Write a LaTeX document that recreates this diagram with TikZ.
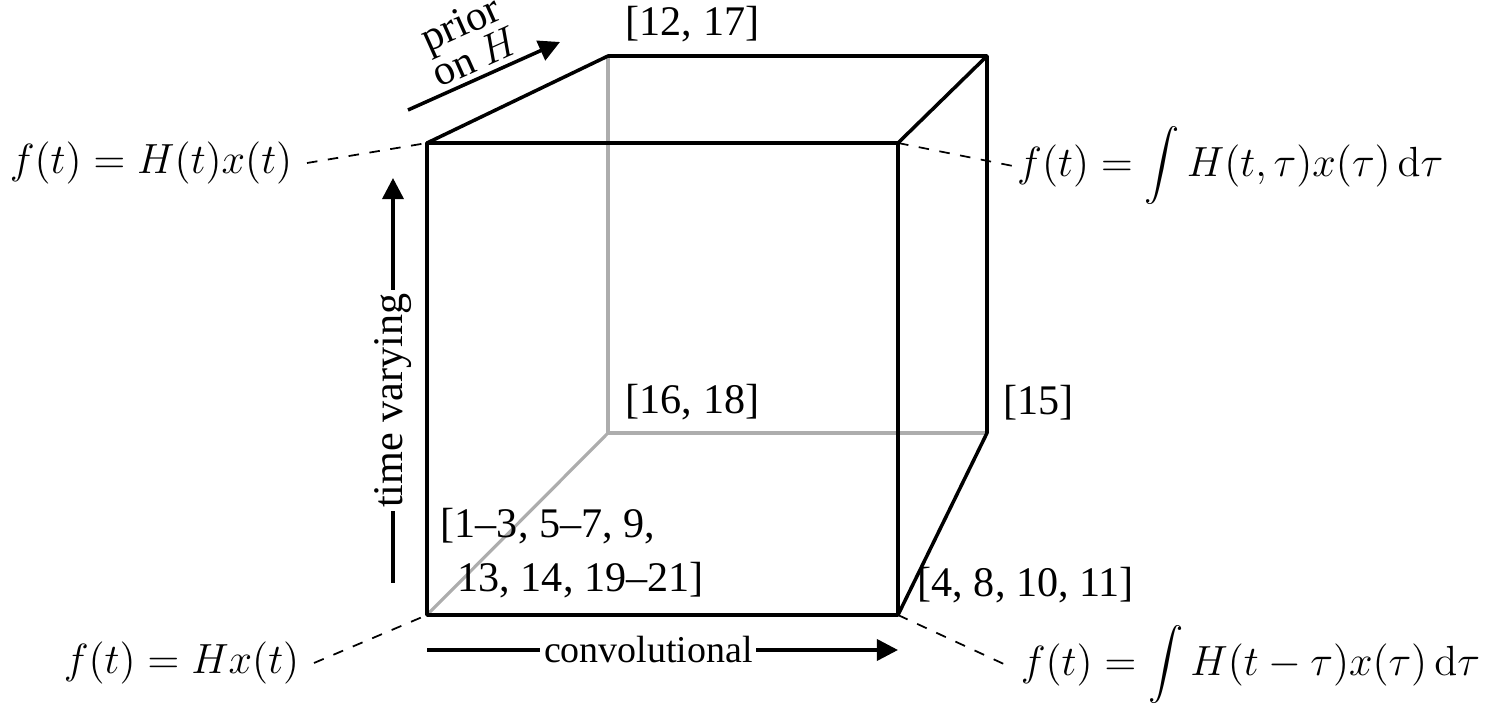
\documentclass[tikz,border=0pt,12pt]{standalone}
\usepackage[no-math]{fontspec}
\setmainfont{Liberation Serif}
\usepackage{tikz}
\usetikzlibrary{arrows.meta}
\def\edgew{1pt}
\tikzset{
    cubeedge/.style = {
        draw, line width=\edgew, line join=round
    },
    hiddenedge/.style = {
        draw, line width=0.9pt, black!32
    },
    leader/.style = {
        draw, dashed, line width=0.5pt
    },
    axisarrow/.style = {
        -{Triangle[length=6pt, width=6pt]}, line width=1pt
    },
    refs/.style = {
        inner sep=0pt, anchor=base west
    },
    axislabel/.style = {
        fill=white, inner ysep=2pt, inner xsep=1pt
    },
}

\begin{document}
\begin{tikzpicture}
        \useasboundingbox (0,0) rectangle (14.88,7.24);

        % Corners of the cube
        \coordinate (fbl) at (4.27, 1.09);
        \coordinate (fbr) at (8.98, 1.09);
        \coordinate (ftr) at (8.98, 5.81);
        \coordinate (ftl) at (4.27, 5.81);
        \coordinate (bbl) at (6.08, 2.91);
        \coordinate (bbr) at (9.87, 2.91);
        \coordinate (btr) at (9.87, 6.68);
        \coordinate (btl) at (6.08, 6.68);

        % Hidden edges
        \draw[hiddenedge] (btl) -- (bbl) -- (bbr);
        \draw[hiddenedge] (fbl) -- (bbl);

        % Visible edges
        \draw[cubeedge] (fbl) rectangle (ftr);
        \draw[cubeedge] (ftl) -- (btl) -- (btr) -- (bbr) -- (fbr);
        \draw[cubeedge] (ftr) -- (btr);

        % References at the corners
        \node[refs] (refprior) at (6.25, 6.88) {[12, 17]};
        \node[refs] (refpriorlti) at (6.25, 3.10) {[16, 18]};
        \node[refs] (refpriorconv) at (10.03, 3.09) {[15]};
        \node[refs, align=left] (reflti) at (4.40, 1.32) {[1--3, 5--7, 9,\\[1pt]\hspace{0.4em}13, 14, 19--21]};
        \node[refs] (refconv) at (9.17, 1.27) {[4, 8, 10, 11]};

        % Model equations
        \node[anchor=east] (eqtv) at (3.07, 5.61) {$f(t) = H(t)x(t)$};
        \node[anchor=east] (eqlti) at (3.14, 0.61) {$f(t) = Hx(t)$};
        \node[anchor=west, inner xsep=1pt] (eqgen) at (10.13, 5.58) {$\displaystyle f(t) = \int H(t, \tau) x(\tau) \,\mathrm{d}\tau$};
        \node[anchor=west] (eqconv) at (10.06, 0.59) {$\displaystyle f(t) = \int H(t - \tau) x(\tau) \,\mathrm{d}\tau$};
        \draw[leader] (eqtv.east) -- (ftl);
        \draw[leader] (eqlti.east) -- (fbl);
        \draw[leader] (ftr) -- (eqgen.west);
        \draw[leader] (fbr) -- (eqconv.west);

        % Axis arrows
        \coordinate (convfrom) at (4.27, 0.74);
        \coordinate (convto) at (8.98, 0.74);
        \coordinate (tvfrom) at (3.93, 1.41);
        \coordinate (tvto) at (3.93, 5.46);
        \coordinate (priorfrom) at (4.08, 6.14);
        \coordinate (priorto) at (5.60, 6.82);
        \draw[axisarrow] (convfrom) -- node[axislabel, pos=0.47, font=\fontsize{10.8}{13}\selectfont] (convlabel) {convolutional} (convto);
        \draw[axisarrow] (tvfrom) -- node[axislabel, pos=0.45, sloped] (tvlabel) {time varying} (tvto);
        \draw[axisarrow] (priorfrom) -- node[pos=0.5, sloped, above, align=center, inner sep=1.5pt] (priorlabel) {prior\\[-4pt]on $H$} (priorto);
\end{tikzpicture}
\end{document}
